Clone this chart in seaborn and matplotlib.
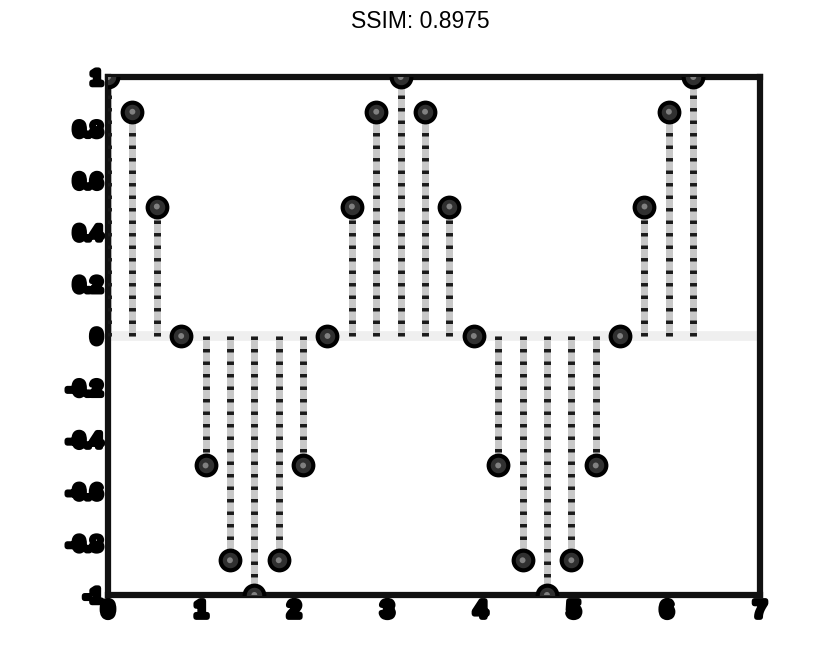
import numpy as np
import matplotlib
matplotlib.use("Agg")
import matplotlib.pyplot as plt
import matplotlib.patheffects as pe
import seaborn as sns
import pandas as pd

# samples of cos(2x) at steps of pi/12, from 0 to 2*pi
x_vals = [0.0000, 0.2618, 0.5236, 0.7854, 1.0472, 1.3090, 1.5708, 1.8326, 2.0944,
          2.3562, 2.6180, 2.8798, 3.1416, 3.4034, 3.6652, 3.9270, 4.1888, 4.4506,
          4.7124, 4.9742, 5.2360, 5.4978, 5.7596, 6.0214, 6.2832]
y_vals = [1.0, 0.866, 0.5, 0.0, -0.5, -0.866, -1.0, -0.866, -0.5,
          0.0, 0.5, 0.866, 1.0, 0.866, 0.5, 0.0, -0.5, -0.866,
          -1.0, -0.866, -0.5, 0.0, 0.5, 0.866, 1.0]
x_ticks = [0, 1, 2, 3, 4, 5, 6, 7]
y_ticks = [-1, -0.8, -0.6, -0.4, -0.2, 0, 0.2, 0.4, 0.6, 0.8, 1]
y_tick_labels = ['-1', '-0.8', '-0.6', '-0.4', '-0.2', '0', '0.2', '0.4', '0.6', '0.8', '1']

df = pd.DataFrame({'x': x_vals, 'y': y_vals})

sns.set_style('white')
plt.rcParams['font.family'] = ['Liberation Sans', 'DejaVu Sans']

fig = plt.figure(figsize=(8.4, 6.64), dpi=100)
ax = fig.add_axes([0.1286, 0.104, 0.7762, 0.780])

# baseline
ax.axhline(0, color='#efefef', lw=7, zorder=1)

# stems: light gray body with dark dashes on top
ax.vlines(df['x'], 0, df['y'], color='#c8c8c8', lw=5, zorder=2)
ax.vlines(df['x'], 0, df['y'], color='#1a1a1a', lw=5, zorder=3,
          linestyles=(0, (0.5, 1.3)))

# markers
sns.scatterplot(data=df, x='x', y='y', ax=ax, s=200, color='#303030',
                edgecolor='black', linewidth=3, zorder=5, legend=False)
sns.scatterplot(data=df, x='x', y='y', ax=ax, s=18, color='#808080',
                edgecolor='none', zorder=6, legend=False)

ax.set_xlim(0, 7)
ax.set_ylim(-1, 1)
ax.set_xticks(x_ticks)
ax.set_yticks(y_ticks)
ax.set_yticklabels(y_tick_labels)
ax.set_xlabel('')
ax.set_ylabel('')

ax.tick_params(direction='in', length=4, width=5, color='#dddddd',
               labelsize=15, labelcolor='black', pad=4)
ax.tick_params(axis='x', labelsize=17, pad=3)
for lab in ax.get_xticklabels() + ax.get_yticklabels():
    lab.set_fontweight('bold')
    lab.set_path_effects([pe.withStroke(linewidth=4, foreground='black')])

for sp in ax.spines.values():
    sp.set_visible(True)
    sp.set_color('#111111')
    sp.set_linewidth(4.5)

fig.suptitle('SSIM: 0.8975', fontsize=16.5, y=0.985, color='black')

fig.savefig('out.png', dpi=100)
